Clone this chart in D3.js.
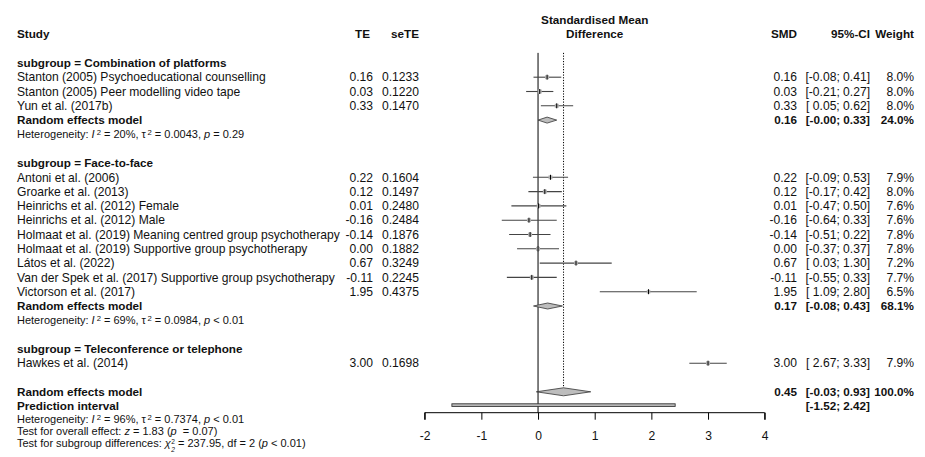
<!DOCTYPE html>
<html>
<head>
<meta charset="utf-8">
<script src="https://cdn.jsdelivr.net/npm/d3@7"></script>
<style>
  html, body { margin: 0; padding: 0; background: #fff; }
  svg text { font-family: "Liberation Sans", Arial, sans-serif; white-space: pre; }
</style>
</head>
<body>
<svg id="chart" width="925" height="457"></svg>
<script>
// ---- study-level data ----
const studyNames = [
  "Stanton (2005) Psychoeducational counselling",
  "Stanton (2005) Peer modelling video tape",
  "Yun et al. (2017b)",
  "Antoni et al. (2006)",
  "Groarke et al. (2013)",
  "Heinrichs et al. (2012) Female",
  "Heinrichs et al. (2012) Male",
  "Holmaat et al. (2019) Meaning centred group psychotherapy",
  "Holmaat et al. (2019) Supportive group psychotherapy",
  "Látos et al. (2022)",
  "Van der Spek et al. (2017) Supportive group psychotherapy",
  "Victorson et al. (2017)",
  "Hawkes et al. (2014)"
];
const studyGroup = [0, 0, 0, 1, 1, 1, 1, 1, 1, 1, 1, 1, 2];
const studyTE    = [0.16, 0.03, 0.33, 0.22, 0.12, 0.01, -0.16, -0.14, 0.00, 0.67, -0.11, 1.95, 3.00];
const studySeTE  = ["0.1233", "0.1220", "0.1470", "0.1604", "0.1497", "0.2480", "0.2484", "0.1876", "0.1882", "0.3249", "0.2245", "0.4375", "0.1698"];
const studyLower = [-0.08, -0.21, 0.05, -0.09, -0.17, -0.47, -0.64, -0.51, -0.37, 0.03, -0.55, 1.09, 2.67];
const studyUpper = [0.41, 0.27, 0.62, 0.53, 0.42, 0.50, 0.33, 0.22, 0.37, 1.30, 0.33, 2.80, 3.33];
const studyWeight = [8.0, 8.0, 8.0, 7.9, 8.0, 7.6, 7.6, 7.8, 7.8, 7.2, 7.7, 6.5, 7.9];

// ---- subgroup-level data ----
const groupNames  = ["Combination of platforms", "Face-to-face", "Teleconference or telephone"];
const groupRE     = [0.16, 0.17, null];
const groupLower  = [-0.00, -0.08, null];
const groupUpper  = [0.33, 0.43, null];
const groupWeight = [24.0, 68.1, null];
const groupI2     = ["20%", "69%", null];
const groupTau2   = ["0.0043", "0.0984", null];
const groupP      = ["= 0.29", "< 0.01", null];

// ---- overall ----
const overallRE = 0.45, overallLower = -0.03, overallUpper = 0.93, overallWeight = 100.0;
const predLower = -1.52, predUpper = 2.42;
const axisTicks = [-2, -1, 0, 1, 2, 3, 4];

// ---- layout ----
const svg = d3.select("#chart");
const x = d3.scaleLinear().domain([-2, 4]).range([424.7, 764.7]);
const y = d3.scaleLinear().domain([0, 28]).range([20, 20 + 14.3 * 28]);
const FS = 12.1, FSB = 11.7, FSS = 11;
const col = { study: 17, te: 373, sete: 419, smd: 797, ci: 870, w: 914 };

const fmt2 = d3.format(".2f");
// keep the sign of negative zero, as in "-0.00"
const num = v => (v < 0 || Object.is(v, -0)) ? "-" + fmt2(Math.abs(v)) : fmt2(v);
const padNum = v => { const s = num(v); return s.startsWith("-") ? s : " " + s; };
const ciText = (lo, hi) => "[" + padNum(lo) + "; " + num(hi) + "]";

function txt(xp, yp, s, opts = {}) {
  return svg.append("text")
    .attr("x", xp).attr("y", yp)
    .attr("dy", "0.35em")
    .attr("font-size", opts.size || (opts.bold ? FSB : FS))
    .attr("font-weight", opts.bold ? "bold" : null)
    .attr("text-anchor", opts.anchor || "start")
    .attr("fill", opts.fill || "#111")
    .text(s);
}

// headers
txt(x(1), y(0), "Standardised Mean", { bold: true, anchor: "middle" });
txt(x(1), y(1), "Difference", { bold: true, anchor: "middle" });
txt(col.study, y(1), "Study", { bold: true });
txt(col.te - 3, y(1), "TE", { bold: true, anchor: "end" });
txt(col.sete, y(1), "seTE", { bold: true, anchor: "end" });
txt(col.smd, y(1), "SMD", { bold: true, anchor: "end" });
txt(col.ci, y(1), "95%-CI", { bold: true, anchor: "end" });
txt(col.w, y(1), "Weight", { bold: true, anchor: "end" });

// row assignments
const groupHeaderRow = [3, 10, 23];
const groupRERow = [7, 20, null];
const groupHetRow = [8, 21, null];
const studyRow = [];
{
  const counters = [0, 0, 0];
  studyGroup.forEach((g, i) => { studyRow.push(groupHeaderRow[g] + 1 + counters[g]); counters[g]++; });
}

// heterogeneity line with italic symbols and superscripts
function hetLine(yp, i2, tau2, p) {
  const t = svg.append("text").attr("x", col.study).attr("y", yp).attr("dy", "0.35em")
    .attr("font-size", FSS).attr("fill", "#111");
  t.append("tspan").text("Heterogeneity: ");
  t.append("tspan").attr("font-style", "italic").text("I");
  t.append("tspan").attr("font-size", FSS * 0.7).attr("dx", 2).attr("dy", "-0.4em").text("2");
  t.append("tspan").attr("dy", "0.28em").text(" = " + i2 + ", τ");
  t.append("tspan").attr("font-size", FSS * 0.7).attr("dx", 1.5).attr("dy", "-0.4em").text("2");
  t.append("tspan").attr("dy", "0.28em").text(" = " + tau2 + ", ");
  t.append("tspan").attr("font-style", "italic").text("p");
  t.append("tspan").text(" " + p);
  return t;
}

// reference lines
const lineTop = y(2.3);
svg.append("line").attr("x1", x(0)).attr("x2", x(0)).attr("y1", lineTop).attr("y2", 412.7)
  .attr("stroke", "#000").attr("stroke-width", 1);
svg.append("line").attr("x1", x(overallRE)).attr("x2", x(overallRE)).attr("y1", lineTop).attr("y2", y(26) - 4)
  .attr("stroke", "#000").attr("stroke-width", 1).attr("stroke-dasharray", "1.2,1.5");

// subgroups
groupNames.forEach((g, gi) => {
  txt(col.study, y(groupHeaderRow[gi]), "subgroup = " + g, { bold: true });
  if (groupRE[gi] !== null) {
    const r = groupRERow[gi];
    txt(col.study, y(r), "Random effects model", { bold: true });
    txt(col.smd, y(r), num(groupRE[gi]), { bold: true, anchor: "end" });
    txt(col.ci, y(r), ciText(groupLower[gi], groupUpper[gi]), { bold: true, anchor: "end" });
    txt(col.w, y(r), groupWeight[gi].toFixed(1) + "%", { bold: true, anchor: "end" });
    const yc = y(r), h = 3;
    svg.append("path")
      .attr("d", `M${x(groupLower[gi])},${yc} L${x(groupRE[gi])},${yc - h} L${x(groupUpper[gi])},${yc} L${x(groupRE[gi])},${yc + h} Z`)
      .attr("fill", "#bdbdbd").attr("stroke", "#333").attr("stroke-width", 0.8);
    hetLine(y(groupHetRow[gi]), groupI2[gi], groupTau2[gi], groupP[gi]);
  }
});

// studies
studyNames.forEach((n, i) => {
  const r = y(studyRow[i]);
  txt(col.study, r, n);
  txt(col.te, r, num(studyTE[i]), { anchor: "end" });
  txt(col.sete, r, studySeTE[i], { anchor: "end" });
  txt(col.smd, r, num(studyTE[i]), { anchor: "end" });
  txt(col.ci, r, ciText(studyLower[i], studyUpper[i]), { anchor: "end" });
  txt(col.w, r, studyWeight[i].toFixed(1) + "%", { anchor: "end" });
  svg.append("line").attr("x1", x(studyLower[i])).attr("x2", x(studyUpper[i]))
    .attr("y1", r).attr("y2", r).attr("stroke", "#444").attr("stroke-width", 1.1);
  const s = Math.sqrt(studyWeight[i]) * 1.4;
  svg.append("rect").attr("x", x(studyTE[i]) - s / 2).attr("y", r - s / 2)
    .attr("width", s).attr("height", s).attr("fill", "#b0b0b0");
  svg.append("line").attr("x1", x(studyTE[i])).attr("x2", x(studyTE[i]))
    .attr("y1", r - 2.5).attr("y2", r + 2.5).attr("stroke", "#000").attr("stroke-width", 1);
});

// overall model
{
  const r = y(26), h = 4;
  txt(col.study, r, "Random effects model", { bold: true });
  txt(col.smd, r, num(overallRE), { bold: true, anchor: "end" });
  txt(col.ci, r, ciText(overallLower, overallUpper), { bold: true, anchor: "end" });
  txt(col.w, r, overallWeight.toFixed(1) + "%", { bold: true, anchor: "end" });
  svg.append("path")
    .attr("d", `M${x(overallLower)},${r} L${x(overallRE)},${r - h} L${x(overallUpper)},${r} L${x(overallRE)},${r + h} Z`)
    .attr("fill", "#bdbdbd").attr("stroke", "#333").attr("stroke-width", 0.8);

  const rp = y(27) - 1;
  txt(col.study, y(27), "Prediction interval", { bold: true });
  txt(col.ci, y(27), ciText(predLower, predUpper), { bold: true, anchor: "end" });
  svg.append("rect").attr("x", x(predLower)).attr("y", rp - 1.3)
    .attr("width", x(predUpper) - x(predLower)).attr("height", 2.6)
    .attr("fill", "#bdbdbd").attr("stroke", "#333").attr("stroke-width", 0.9);
}

// overall notes
hetLine(419.5, "96%", "0.7374", "< 0.01");
{
  const t = svg.append("text").attr("x", col.study).attr("y", 431.5).attr("dy", "0.35em")
    .attr("font-size", FSS).attr("fill", "#111");
  t.append("tspan").text("Test for overall effect: ");
  t.append("tspan").attr("font-style", "italic").text("z");
  t.append("tspan").text(" = 1.83 (");
  t.append("tspan").attr("font-style", "italic").text("p");
  t.append("tspan").text("  = 0.07)");
}
{
  // chi-square with stacked superscript and subscript
  const sFS = FSS * 0.6, supUp = 3.5, subDown = 4.2, digitW = 0.556 * sFS;
  const t = svg.append("text").attr("x", col.study).attr("y", 443.5).attr("dy", "0.35em")
    .attr("font-size", FSS).attr("fill", "#111");
  t.append("tspan").text("Test for subgroup differences: ");
  t.append("tspan").attr("font-style", "italic").text("χ");
  t.append("tspan").attr("font-size", sFS).attr("dx", 0.5).attr("dy", -supUp).text("2");
  t.append("tspan").attr("font-size", sFS).attr("font-style", "italic")
    .attr("dx", -digitW).attr("dy", supUp + subDown).text("2");
  t.append("tspan").attr("dy", -subDown).text(" = 237.95, df = 2 (");
  t.append("tspan").attr("font-style", "italic").text("p");
  t.append("tspan").text(" < 0.01)");
}

// x axis
const axisG = svg.append("g").attr("transform", "translate(0,412.7)");
axisG.call(d3.axisBottom(x).tickValues(axisTicks).tickSize(7).tickPadding(12).tickFormat(d3.format("d")));
axisG.select(".domain").attr("stroke", "#000").attr("d", `M${x(-2)},7V0H${x(4)}V7`);
axisG.selectAll(".tick line").attr("stroke", "#000");
axisG.selectAll(".tick text").attr("font-size", FS).attr("fill", "#111")
  .attr("font-family", "Liberation Sans, Arial, sans-serif")
  .text(d => d < 0 ? "-" + Math.abs(d) : String(d));
</script>
</body>
</html>
